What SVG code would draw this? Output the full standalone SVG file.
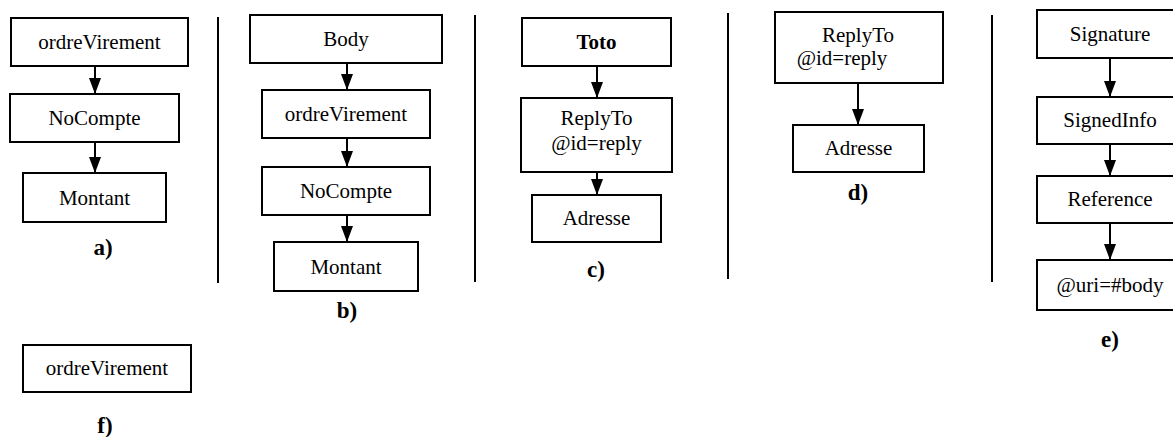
<svg xmlns="http://www.w3.org/2000/svg" width="1173" height="437" viewBox="0 0 1173 437">
  <style>
    .box { fill: #ffffff; stroke: #000000; stroke-width: 2; }
    .t { font-family: "Liberation Serif", "Times New Roman", serif; font-size: 21px; fill: #000000; text-anchor: middle; }
    .tb { font-weight: bold; }
    .lbl { font-family: "Liberation Serif", "Times New Roman", serif; font-size: 23px; font-weight: bold; fill: #000000; text-anchor: middle; }
    .sep { stroke: #000000; stroke-width: 2; }
    .edge { stroke: #000000; stroke-width: 2; fill: none; marker-end: url(#arrow); }
  </style>
  <defs>
    <marker id="arrow" markerUnits="userSpaceOnUse" viewBox="0 0 16 12" markerWidth="16" markerHeight="12" refX="16" refY="6" orient="auto">
      <path d="M0,0 L16,6 L0,12 z" fill="#000000"/>
    </marker>
  </defs>

  <rect width="1173" height="437" fill="#ffffff"/>

  <!-- column separators -->
  <g id="separators">
    <line class="sep" x1="218" y1="17" x2="218" y2="283"/>
    <line class="sep" x1="475" y1="15" x2="475" y2="282"/>
    <line class="sep" x1="728" y1="13" x2="728" y2="279"/>
    <line class="sep" x1="992" y1="15" x2="992" y2="282"/>
  </g>

  <!-- connectors -->
  <g id="connectors">
    <line class="edge" x1="95" y1="66" x2="95" y2="94"/>
    <line class="edge" x1="95" y1="142" x2="95" y2="173"/>
    <line class="edge" x1="347" y1="63" x2="347" y2="90"/>
    <line class="edge" x1="347" y1="138" x2="347" y2="167"/>
    <line class="edge" x1="347" y1="215" x2="347" y2="242"/>
    <line class="edge" x1="597" y1="66" x2="597" y2="98"/>
    <line class="edge" x1="597" y1="172" x2="597" y2="195"/>
    <line class="edge" x1="858" y1="83" x2="858" y2="125"/>
    <line class="edge" x1="1110" y1="58" x2="1110" y2="97"/>
    <line class="edge" x1="1110" y1="144" x2="1110" y2="176"/>
    <line class="edge" x1="1110" y1="223" x2="1110" y2="260"/>
  </g>

  <!-- a) -->
  <g id="a-ordreVirement"><rect class="box" x="11" y="18" width="177" height="48"/><text class="t" x="99.5" y="49">ordreVirement</text></g>
  <g id="a-NoCompte"><rect class="box" x="10" y="94" width="169" height="48"/><text class="t" x="94.5" y="125">NoCompte</text></g>
  <g id="a-Montant"><rect class="box" x="23" y="173" width="143" height="49"/><text class="t" x="94.5" y="205">Montant</text></g>
  <text class="lbl" x="103" y="255">a)</text>

  <!-- b) -->
  <g id="b-Body"><rect class="box" x="250" y="15" width="192" height="48"/><text class="t" x="346" y="46">Body</text></g>
  <g id="b-ordreVirement"><rect class="box" x="262" y="90" width="168" height="48"/><text class="t" x="346" y="121">ordreVirement</text></g>
  <g id="b-NoCompte"><rect class="box" x="262" y="167" width="168" height="48"/><text class="t" x="346" y="198">NoCompte</text></g>
  <g id="b-Montant"><rect class="box" x="274" y="242" width="144" height="49"/><text class="t" x="346" y="274">Montant</text></g>
  <text class="lbl" x="347" y="318">b)</text>

  <!-- c) -->
  <g id="c-Toto"><rect class="box" x="522" y="18" width="149" height="48"/><text class="t tb" x="596.5" y="49">Toto</text></g>
  <g id="c-ReplyTo"><rect class="box" x="521" y="98" width="151" height="74"/><text class="t" x="596.5" y="125">ReplyTo</text><text class="t" x="596.5" y="150">@id=reply</text></g>
  <g id="c-Adresse"><rect class="box" x="532" y="195" width="129" height="47"/><text class="t" x="596.5" y="225">Adresse</text></g>
  <text class="lbl" x="596" y="277">c)</text>

  <!-- d) -->
  <g id="d-ReplyTo"><rect class="box" x="775" y="12" width="168" height="71"/><text class="t" x="858" y="42">ReplyTo</text><text class="t" x="842" y="65">@id=reply</text></g>
  <g id="d-Adresse"><rect class="box" x="793" y="125" width="131" height="47"/><text class="t" x="858.5" y="155">Adresse</text></g>
  <text class="lbl" x="858" y="200">d)</text>

  <!-- e) -->
  <g id="e-Signature"><rect class="box" x="1037" y="10" width="146" height="48"/><text class="t" x="1110" y="41">Signature</text></g>
  <g id="e-SignedInfo"><rect class="box" x="1037" y="97" width="146" height="47"/><text class="t" x="1110" y="127">SignedInfo</text></g>
  <g id="e-Reference"><rect class="box" x="1037" y="176" width="146" height="47"/><text class="t" x="1110" y="206">Reference</text></g>
  <g id="e-uri"><rect class="box" x="1037" y="260" width="146" height="50"/><text class="t" x="1110" y="292">@uri=#body</text></g>
  <text class="lbl" x="1110" y="347">e)</text>

  <!-- f) -->
  <g id="f-ordreVirement"><rect class="box" x="23" y="345" width="168" height="47"/><text class="t" x="107" y="375">ordreVirement</text></g>
  <text class="lbl" x="105" y="433">f)</text>
</svg>
